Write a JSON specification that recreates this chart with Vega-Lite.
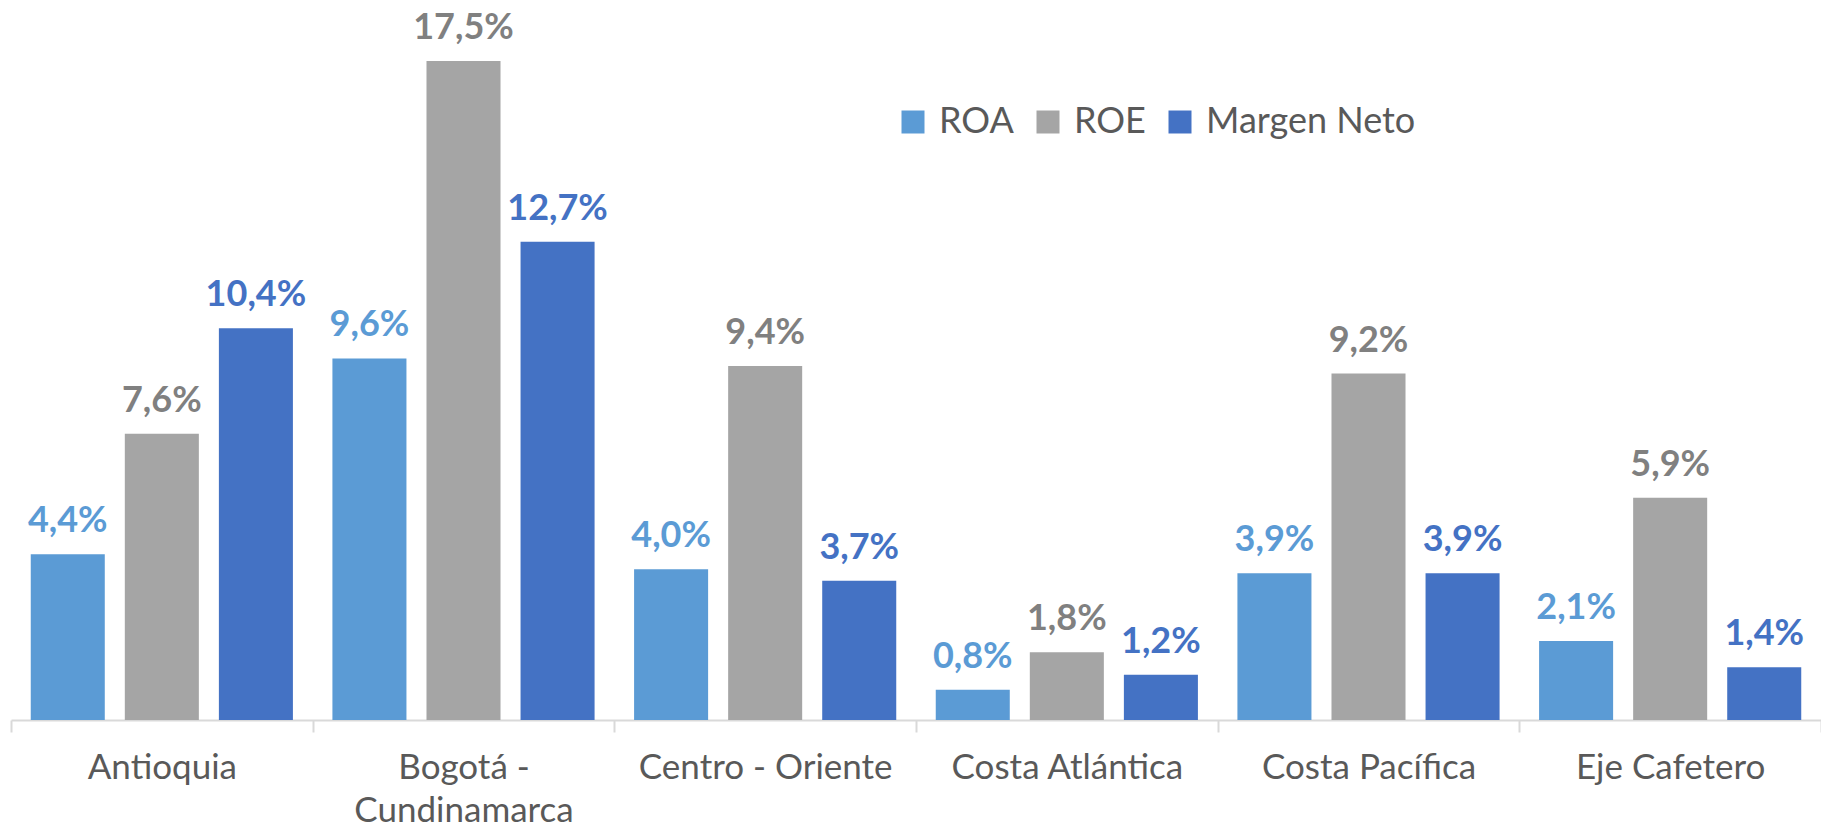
{
  "$schema": "https://vega.github.io/schema/vega-lite/v6.json",
  "autosize": {"type": "none"},
  "width": 1810,
  "height": 720,
  "padding": {"left": 11, "top": 0, "right": 0, "bottom": 109},
  "background": "white",
  "config": {
    "view": {"stroke": null},
    "font": "Lato",
    "locale": {"number": {"decimal": ",", "thousands": ".", "grouping": [3], "currency": ["", ""]}}
  },
  "data": {
    "values": [
      {"region": "Antioquia", "serie": "ROA", "valor": 0.044},
      {"region": "Antioquia", "serie": "ROE", "valor": 0.076},
      {"region": "Antioquia", "serie": "Margen Neto", "valor": 0.104},
      {"region": "Bogotá - Cundinamarca", "serie": "ROA", "valor": 0.096},
      {"region": "Bogotá - Cundinamarca", "serie": "ROE", "valor": 0.175},
      {"region": "Bogotá - Cundinamarca", "serie": "Margen Neto", "valor": 0.127},
      {"region": "Centro - Oriente", "serie": "ROA", "valor": 0.040},
      {"region": "Centro - Oriente", "serie": "ROE", "valor": 0.094},
      {"region": "Centro - Oriente", "serie": "Margen Neto", "valor": 0.037},
      {"region": "Costa Atlántica", "serie": "ROA", "valor": 0.008},
      {"region": "Costa Atlántica", "serie": "ROE", "valor": 0.018},
      {"region": "Costa Atlántica", "serie": "Margen Neto", "valor": 0.012},
      {"region": "Costa Pacífica", "serie": "ROA", "valor": 0.039},
      {"region": "Costa Pacífica", "serie": "ROE", "valor": 0.092},
      {"region": "Costa Pacífica", "serie": "Margen Neto", "valor": 0.039},
      {"region": "Eje Cafetero", "serie": "ROA", "valor": 0.021},
      {"region": "Eje Cafetero", "serie": "ROE", "valor": 0.059},
      {"region": "Eje Cafetero", "serie": "Margen Neto", "valor": 0.014}
    ]
  },
  "encoding": {
    "x": {
      "field": "region",
      "type": "nominal",
      "sort": null,
      "scale": {"paddingInner": 0, "paddingOuter": 0},
      "axis": {
        "title": null,
        "labelAngle": 0,
        "labelFont": "Lato",
        "labelFontSize": 35,
        "labelColor": "#595959",
        "labelLineHeight": 43,
        "labelPadding": 18,
        "labelExpr": "datum.label == 'Bogotá - Cundinamarca' ? ['Bogotá -', 'Cundinamarca'] : datum.label",
        "domainColor": "#D9D9D9",
        "domainWidth": 2,
        "tickColor": "#D9D9D9",
        "tickWidth": 2,
        "tickSize": 12,
        "tickBand": "extent",
        "labelLimit": 400
      }
    },
    "xOffset": {
      "field": "serie",
      "type": "nominal",
      "sort": ["ROA", "ROE", "Margen Neto"],
      "scale": {"paddingInner": 0.213, "paddingOuter": 0.21}
    },
    "y": {
      "field": "valor",
      "type": "quantitative",
      "scale": {"domain": [0, 0.1912], "nice": false, "zero": true},
      "axis": null
    }
  },
  "layer": [
    {
      "mark": {"type": "bar"},
      "encoding": {
        "color": {
          "field": "serie",
          "type": "nominal",
          "sort": ["ROA", "ROE", "Margen Neto"],
          "scale": {"domain": ["ROA", "ROE", "Margen Neto"], "range": ["#5B9BD5", "#A5A5A5", "#4472C4"]},
          "legend": {
            "title": null,
            "orient": "none",
            "legendX": 884,
            "legendY": 104,
            "direction": "horizontal",
            "symbolType": "square",
            "symbolSize": 529,
            "symbolStrokeWidth": 0,
            "labelFont": "Lato",
            "labelFontSize": 36,
            "labelColor": "#595959",
            "labelOffset": 8,
            "labelLimit": 400,
            "columnPadding": 16,
            "padding": 0
          }
        }
      }
    },
    {
      "mark": {"type": "text", "baseline": "alphabetic", "dy": -22, "fontWeight": "bold", "fontSize": 36, "font": "Lato"},
      "encoding": {
        "text": {"field": "valor", "type": "quantitative", "format": ".1%"},
        "color": {
          "field": "serie",
          "type": "nominal",
          "scale": {"domain": ["ROA", "ROE", "Margen Neto"], "range": ["#5B9BD5", "#808080", "#4472C4"]},
          "legend": null
        }
      }
    }
  ],
  "resolve": {"scale": {"color": "independent"}}
}
